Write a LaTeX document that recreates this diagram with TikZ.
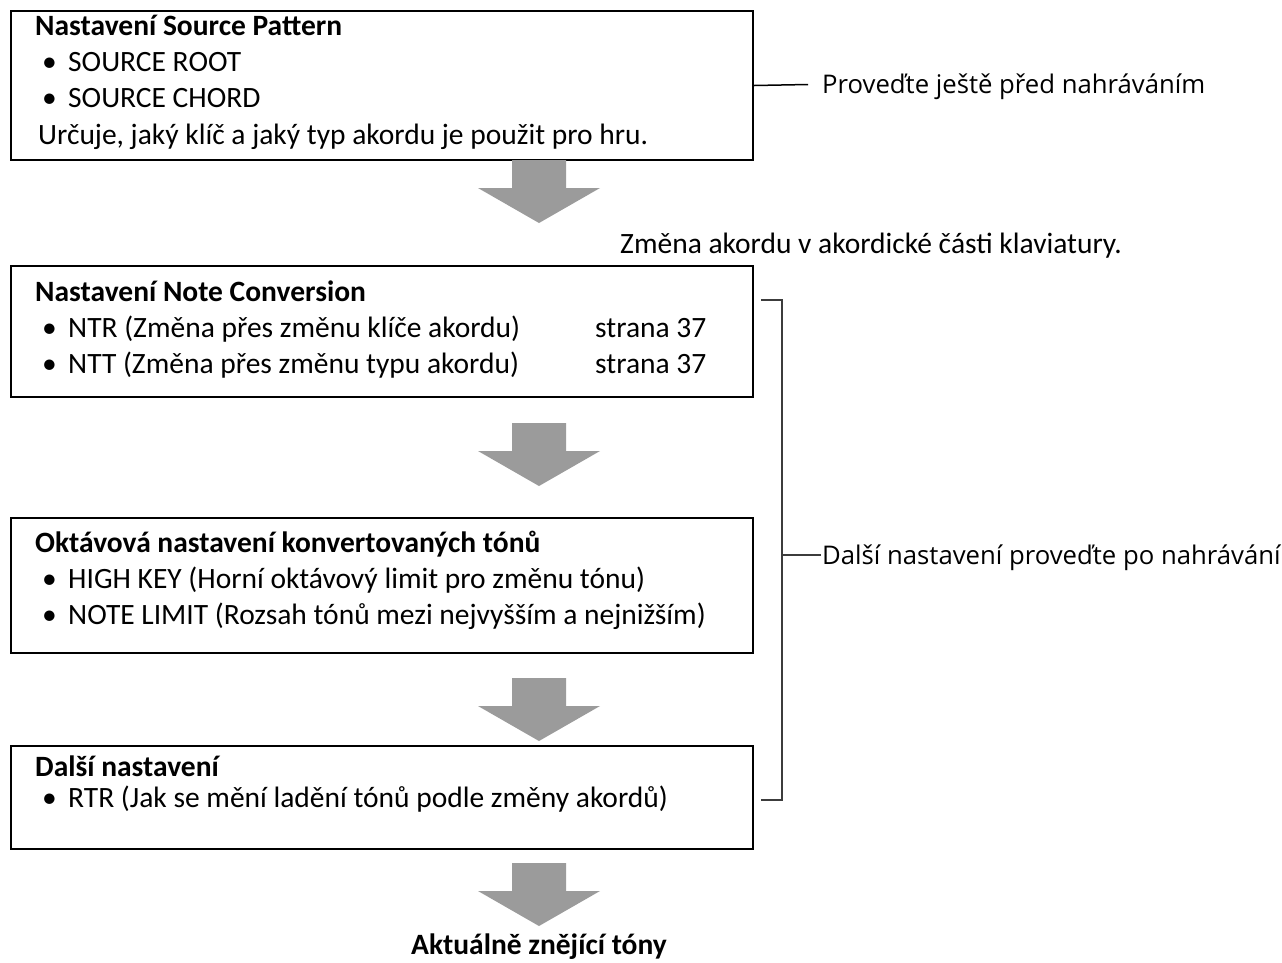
\documentclass[tikz,border=0pt]{standalone}
\usepackage{fontspec}
\setmainfont{Carlito}
\newfontfamily\labelfont{Open Sans}
\definecolor{arrowgray}{RGB}{155,155,155}
\definecolor{brkgray}{RGB}{60,60,60}
\begin{document}
\begin{tikzpicture}[x=1pt,y=-1pt,
  box/.style={draw=black, line width=2pt, anchor=north west, inner sep=0pt, minimum width=742pt},
  txt/.style={anchor=base west, inner sep=0pt, font=\fontsize{29.5}{35}\selectfont},
  ttl/.style={anchor=base west, inner sep=0pt, font=\fontsize{29.5}{35}\selectfont\bfseries},
  bul/.style={anchor=base west, inner sep=0pt, font=\fontsize{29.5}{35}\selectfont},
  lbl/.style={anchor=base west, inner sep=0pt, font=\labelfont\fontsize{25.7}{30}\selectfont},
  brk/.style={draw=brkgray, line width=1.5pt},
  blockarrow/.pic={\fill[arrowgray] (-27,0) -- (27,0) -- (27,28) -- (61,28) -- (0,63) -- (-61,28) -- (-27,28) -- cycle;}]
\useasboundingbox (0,0) rectangle (1282,962);
\fill[white] (0,0) rectangle (1282,962);

% boxes
\node[box, minimum height=149pt] (b1) at (10,10) {};
\node[box, minimum height=131pt] (b2) at (10,265) {};
\node[box, minimum height=135pt] (b3) at (10,517) {};
\node[box, minimum height=103pt] (b4) at (10,745) {};

% box 1 text
\node[ttl] (t1) at (35,35.5) {Nastavení Source Pattern};
\node[bul] (d11) at (42,71.5) {•};
\node[txt] (l11) at (68,71.5) {SOURCE ROOT};
\node[bul] (d12) at (42,107.5) {•};
\node[txt] (l12) at (68,107.5) {SOURCE CHORD};
\node[txt] (l13) at (38,144.5) {Určuje, jaký klíč a jaký typ akordu je použit pro hru.};

% box 2 text
\node[ttl] (t2) at (35,301.5) {Nastavení Note Conversion};
\node[bul] (d21) at (42,337.5) {•};
\node[txt] (l21) at (68,337.5) {NTR (Změna přes změnu klíče akordu)};
\node[txt] (s21) at (595,337.5) {strana 37};
\node[bul] (d22) at (42,373.5) {•};
\node[txt] (l22) at (68,373.5) {NTT (Změna přes změnu typu akordu)};
\node[txt] (s22) at (595,373.5) {strana 37};

% box 3 text
\node[ttl] (t3) at (35,552.5) {Oktávová nastavení konvertovaných tónů};
\node[bul] (d31) at (42,588.5) {•};
\node[txt] (l31) at (68,588.5) {HIGH KEY (Horní oktávový limit pro změnu tónu)};
\node[bul] (d32) at (42,624.5) {•};
\node[txt] (l32) at (68,624.5) {NOTE LIMIT (Rozsah tónů mezi nejvyšším a nejnižším)};

% box 4 text
\node[ttl] (t4) at (35,776) {Další nastavení};
\node[bul] (d41) at (42,807) {•};
\node[txt] (l41) at (68,807) {RTR (Jak se mění ladění tónů podle změny akordů)};

% block arrows
\pic at (539,160) {blockarrow};
\pic at (539,423) {blockarrow};
\pic at (539,678) {blockarrow};
\pic at (539,863) {blockarrow};

\node[txt] (chg) at (620,253.5) {Změna akordu v akordické části klaviatury.};
\node[anchor=base, inner sep=0pt, font=\fontsize{29.5}{35}\selectfont\bfseries] (res) at (539,954) {Aktuálně znějící tóny};

% top right label
\coordinate (c1) at (b1.east);
\coordinate (c1e) at (808,84.5);
\draw[black, line width=1.5pt] (c1) -- (c1e);
\node[lbl] (p1) at (822,93) {Proveďte ještě před nahráváním};

% bracket
\coordinate (bt0) at (761,300);
\coordinate (bt1) at (782,300);
\coordinate (bb0) at (761,800);
\coordinate (bb1) at (782,800);
\coordinate (bm0) at (782,555);
\coordinate (bm1) at (821,555);
\draw[brk] (bt0) -- (bt1) -- (bb1) -- (bb0);
\draw[brk] (bm0) -- (bm1);
\node[lbl] (p2) at (822,564.5) {Další nastavení proveďte po nahrávání};
\end{tikzpicture}
\end{document}
